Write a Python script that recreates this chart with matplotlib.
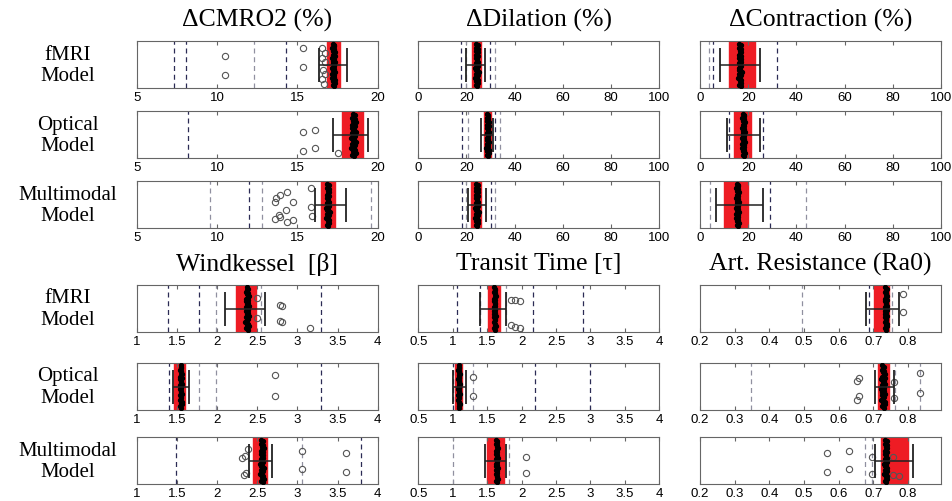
import matplotlib
matplotlib.use('Agg')
import matplotlib.pyplot as plt

# column titles (top group / bottom group)
titles_top = ['ΔCMRO2 (%)', 'ΔDilation (%)', 'ΔContraction (%)']
titles_bot = ['Windkessel  [β]', 'Transit Time [τ]', 'Art. Resistance (Ra0)']
row_names = ['fMRI\nModel', 'Optical\nModel', 'Multimodal\nModel']

# axis ranges and tick labels per column, top group then bottom group
xlims = [(5, 20), (0, 100), (0, 100), (1, 4), (0.5, 4), (0.2, 0.895)]
xticks = [[5, 10, 15, 20], [0, 20, 40, 60, 80, 100], [0, 20, 40, 60, 80, 100],
          [1, 1.5, 2, 2.5, 3, 3.5, 4], [0.5, 1, 1.5, 2, 2.5, 3, 3.5, 4],
          [0.2, 0.3, 0.4, 0.5, 0.6, 0.7, 0.8]]
xticklabels = [['5', '10', '15', '20'], ['0', '20', '40', '60', '80', '100'],
               ['0', '20', '40', '60', '80', '100'],
               ['1', '1.5', '2', '2.5', '3', '3.5', '4'],
               ['0.5', '1', '1.5', '2', '2.5', '3', '3.5', '4'],
               ['0.2', '0.3', '0.4', '0.5', '0.6', '0.7', '0.8']]

# panels in reading order: rows fMRI/Optical/Multimodal (top group), then again (bottom group)
box_lo = [16.87, 22.1, 12.1,
          17.77, 27.2, 14.0,
          16.48, 21.8, 10.0,
          2.23, 1.51, 0.702,
          1.47, 1.03, 0.714,
          2.45, 1.50, 0.723]
box_hi = [17.66, 26.0, 22.9,
          19.10, 30.3, 21.0,
          17.33, 26.0, 20.0,
          2.48, 1.68, 0.746,
          1.60, 1.14, 0.746,
          2.625, 1.74, 0.800]
center = [17.25, 24.3, 16.6,
          18.5, 28.8, 18.0,
          16.9, 24.3, 15.5,
          2.375, 1.61, 0.736,
          1.55, 1.09, 0.728,
          2.56, 1.64, 0.736]
spread = [0.12, 0.8, 0.7,
          0.18, 0.6, 0.7,
          0.12, 0.8, 0.7,
          0.025, 0.015, 0.004,
          0.015, 0.012, 0.007,
          0.025, 0.015, 0.005]
err_lo = [16.35, 20.0, 8.3,
          17.2, 26.0, 11.0,
          16.08, 20.5, 6.5,
          2.095, 1.39, 0.678,
          1.45, 1.00, 0.705,
          2.40, 1.47, 0.705]
err_hi = [18.08, 27.6, 24.9,
          19.4, 31.0, 25.0,
          18.0, 28.0, 26.0,
          2.60, 1.77, 0.775,
          1.65, 1.20, 0.760,
          2.69, 1.77, 0.814]
dash_dark = [[7.35, 8.06, 14.29], [17.6, 29.9], [5.5, 32.1],
             [8.19], [18.0, 32.0], [12.0, 26.0],
             [12.02], [18.0, 30.0], [29.0],
             [1.395, 1.77, 3.30], [1.06, 1.39, 2.16, 2.89], [0.687],
             [1.40, 3.30], [1.0, 2.2, 3.0], [],
             [1.49, 3.79], [], []]
dash_gray = [[12.31], [19.8, 32.0], [3.6],
             [], [20.5, 33.8], [],
             [9.54, 12.8, 19.6], [20.0, 32.0], [4.0, 44.0],
             [1.99, 2.55], [1.78], [0.495, 0.755],
             [1.77, 1.99], [1.3], [0.348, 0.763, 0.835],
             [3.06], [1.01, 1.82], [0.677, 0.697]]
open_x = [[10.48, 10.48, 15.37, 15.37, 16.55, 16.7, 16.55, 16.7, 16.6, 16.7, 16.55, 16.65], [], [],
          [15.35, 15.35, 16.1, 16.1, 17.5], [], [],
          [13.58, 13.69, 13.89, 14.33, 14.75, 14.31, 13.88, 13.58, 13.89, 14.35, 14.75, 15.85, 15.83, 15.89], [], [],
          [2.81, 2.81, 2.78, 2.78, 3.16, 2.5, 2.5], [1.84, 1.91, 1.98, 1.84, 1.91, 1.98], [0.785, 0.785],
          [2.72, 2.72], [1.3, 1.3], [0.653, 0.658, 0.653, 0.658, 0.834, 0.834, 0.76, 0.76],
          [3.06, 3.06, 3.60, 3.60, 2.35, 2.31, 2.33, 2.36, 2.38], [2.06, 2.06],
          [0.565, 0.565, 0.629, 0.629, 0.695, 0.695, 0.756, 0.757, 0.775]]
open_y = [[0.69, 0.28, 0.86, 0.46, 0.85, 0.75, 0.65, 0.55, 0.4, 0.3, 0.2, 0.1], [], [],
          [0.55, 0.16, 0.60, 0.21, 0.11], [], [],
          [0.57, 0.64, 0.70, 0.78, 0.57, 0.40, 0.28, 0.20, 0.23, 0.13, 0.18, 0.86, 0.46, 0.26], [], [],
          [0.55, 0.21, 0.57, 0.23, 0.085, 0.72, 0.3], [0.69, 0.69, 0.65, 0.14, 0.11, 0.09], [0.81, 0.43],
          [0.75, 0.3], [0.3, 0.7], [0.62, 0.69, 0.22, 0.29, 0.78, 0.37, 0.6, 0.25],
          [0.71, 0.32, 0.66, 0.27, 0.6, 0.55, 0.2, 0.25, 0.75], [0.59, 0.23],
          [0.66, 0.27, 0.71, 0.32, 0.59, 0.21, 0.58, 0.2, 0.17]]

# hand-set jitter pattern for the dense black sample cloud
cloud_dx = [0.3, -0.5, 0.8, -0.2, 0.6, -0.9, 0.1, 0.4, -0.6, 0.9, -0.3, 0.2, -0.8, 0.5, 0.0,
            -0.4, 0.7, -0.1, 0.3, -0.7, 0.6, -0.5, 0.2, 0.8, -0.2, 0.4, -0.6, 0.1, 0.5, -0.3]
cloud_y = [0.05, 0.08, 0.12, 0.15, 0.18, 0.22, 0.25, 0.28, 0.31, 0.35, 0.38, 0.41, 0.44, 0.47, 0.5,
           0.53, 0.56, 0.59, 0.62, 0.65, 0.68, 0.71, 0.74, 0.77, 0.8, 0.83, 0.86, 0.89, 0.92, 0.95]

W, H = 953, 502
fig = plt.figure(figsize=(W / 100, H / 100), dpi=100)

col_left = [136.7, 418.3, 700.0]
col_w = 241.0
row_top = [42.3, 112.3, 182.3, 286.0, 364.0, 438.3]
row_h = 47.0

serif = ['Liberation Serif', 'DejaVu Serif']

for i in range(18):
    r, c = i // 3, i % 3
    g = 0 if r < 3 else 1
    k = g * 3 + c
    ax = fig.add_axes([col_left[c] / W, 1 - (row_top[r] + row_h) / H, col_w / W, row_h / H])
    ax.set_xlim(*xlims[k])
    ax.set_ylim(0, 1)
    ax.axvspan(box_lo[i], box_hi[i], color='#ee1c24', zorder=1)
    for x in dash_dark[i]:
        ax.axvline(x, color='#2b2b55', lw=0.9, ls=(0, (4, 3)), zorder=2)
    for x in dash_gray[i]:
        ax.axvline(x, color='#9090a0', lw=0.9, ls=(0, (4, 3)), zorder=2)
    ax.plot(open_x[i], open_y[i], 'o', mfc='none', mec='#555555', ms=4.5, mew=0.8, zorder=3)
    cx = [center[i] + d * spread[i] for d in cloud_dx]
    ax.plot(cx, cloud_y, 'o', color='black', ms=2.8, zorder=4)
    ax.errorbar(center[i], 0.5, xerr=[[center[i] - err_lo[i]], [err_hi[i] - center[i]]],
                fmt='none', ecolor='#222222', elinewidth=1.1, capsize=12, capthick=1.3, zorder=5)
    ax.set_yticks([])
    ax.set_xticks(xticks[k])
    ax.set_xticklabels(xticklabels[k], fontsize=9.5, family=['Liberation Sans', 'DejaVu Sans'])
    ax.tick_params(axis='x', direction='in', top=True, length=3, pad=2, color='#666666')
    for s in ax.spines.values():
        s.set_color('#666666')
    if r in (0, 3):
        title = titles_top[c] if g == 0 else titles_bot[c]
        fig.text((col_left[c] + col_w / 2) / W, 1 - (row_top[r] - 22) / H, title,
                 ha='center', va='center', fontsize=18.5, family=serif)
    if c == 0:
        fig.text(68 / W, 1 - (row_top[r] + row_h / 2) / H, row_names[r % 3],
                 ha='center', va='center', fontsize=15, family=serif, linespacing=1.15)

fig.savefig('out.png', dpi=100)
